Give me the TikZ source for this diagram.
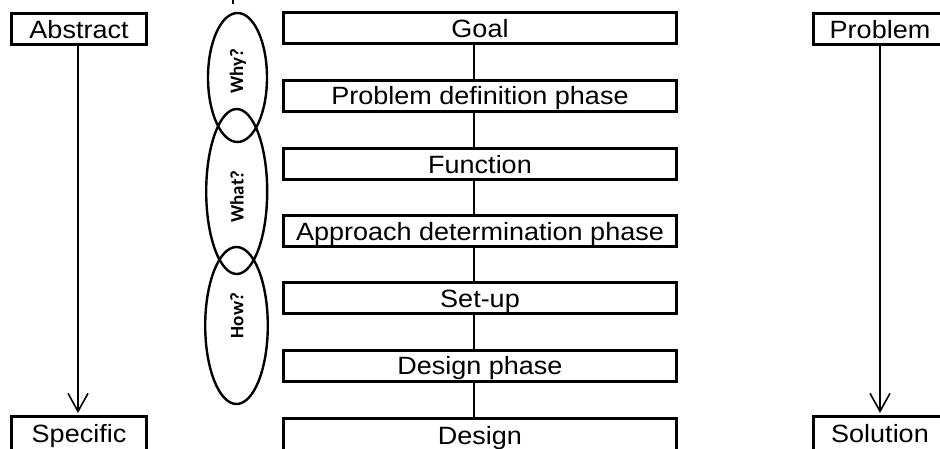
\documentclass[tikz,border=0pt]{standalone}
\usepackage{fontspec}
\setmainfont{Liberation Sans}[FakeStretch=1.08]
\newfontfamily\ellfont{Carlito}
\usetikzlibrary{arrows.meta,shapes.geometric}
\begin{document}
\begin{tikzpicture}[x=1pt,y=-1pt,
  box/.style={draw,line width=3pt,minimum height=31pt,inner sep=0pt,
    text height=18pt,text depth=0pt,font=\fontsize{25}{30}\selectfont},
  lowbox/.style={minimum height=40pt,text depth=7pt},
  midbox/.style={box,minimum width=393pt},
  sidebox/.style={box,minimum width=135pt},
  ell/.style={draw,ellipse,line width=2.4pt,inner sep=0pt},
  elltext/.style={rotate=90,inner sep=0pt,font=\ellfont\bfseries\fontsize{19}{22}\selectfont},
  conn/.style={line width=1.6pt},
  arr/.style={line width=1.6pt,-{Straight Barb[length=18pt,width=20pt,line width=1.6pt]},shorten >=2pt}]
\useasboundingbox (0,0) rectangle (940,448);
\clip (0,0) rectangle (940,448);
\fill[white] (0,0) rectangle (940,448);

% central column
\node[midbox] (goal) at (480,28) {Goal};
\node[midbox] (pdp) at (480,95.8) {Problem definition phase};
\node[midbox] (func) at (480,164) {Function};
\node[midbox] (adp) at (480,231) {Approach determination phase};
\node[midbox] (setup) at (480,298) {Set-up};
\node[midbox] (dp) at (480,365.5) {Design phase};
\node[midbox,lowbox] (design) at (480,438.5) {Design};

\foreach \a/\b in {goal/pdp,pdp/func,func/adp,adp/setup,setup/dp,dp/design}
  \draw[conn] ([xshift=-6pt]\a.south) -- ([xshift=-6pt]\b.north);

% side columns
\node[sidebox] (abs) at (79,29) {Abstract};
\node[sidebox,lowbox] (spec) at (79,436.5) {Specific};
\node[box,minimum width=133pt] (prob) at (880,29) {Problem};
\node[box,lowbox,minimum width=133pt] (sol) at (880,436.5) {Solution};
\draw[arr] ([xshift=-1pt]abs.south) -- ([xshift=-1pt]spec.north);
\draw[arr] (prob.south) -- (sol.north);

% ellipses
\node[ell,minimum width=59pt,minimum height=129pt] (why) at (237.5,77.5) {};
\node[ell,minimum width=61pt,minimum height=165pt] (what) at (236.7,191.5) {};
\node[ell,minimum width=62.6pt,minimum height=157pt] (how) at (236.5,325.5) {};
\node[elltext] (whyt) at (238,71.5) {Why?};
\node[elltext] (whatt) at (237,196.5) {What?};
\node[elltext] (howt) at (237,315.5) {How?};

% fragment at top edge
\coordinate (frag) at (233,0);
\draw[line width=1.6pt] (frag) -- ++(0,3.5);
\end{tikzpicture}
\end{document}
